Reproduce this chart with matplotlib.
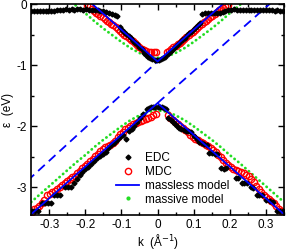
import matplotlib
matplotlib.use("Agg")
import matplotlib.pyplot as plt
from matplotlib.lines import Line2D
from matplotlib.ticker import MultipleLocator

plt.rcParams['font.family'] = ['Liberation Sans', 'DejaVu Sans']
plt.rcParams['font.size'] = 8.5
plt.rcParams['axes.unicode_minus'] = False

# EDC (black diamonds)
edc_k = [-0.350, -0.342, -0.334, -0.326, -0.318, -0.310, -0.302, -0.294, -0.286, -0.278,
         -0.270, -0.262, -0.254, -0.246, -0.238, -0.230, -0.222, -0.214, -0.206, -0.198,
         -0.190, -0.182, -0.174, -0.166, -0.158, -0.150, -0.142, -0.134, -0.126, -0.118, -0.112,
         -0.104, -0.098, -0.092, -0.086, -0.080, -0.074, -0.068, -0.062, -0.056, -0.050, -0.044,
         -0.038, -0.032, -0.026, -0.020, -0.014, -0.008, -0.002, 0.004, 0.010, 0.016,
         0.022, 0.028, 0.034, 0.040, 0.046, 0.052, 0.058, 0.064, 0.070, 0.076, 0.082, 0.088,
         0.094, 0.100, 0.106, 0.112, 0.118,
         0.124, 0.132, 0.140, 0.148, 0.156, 0.164, 0.172, 0.180, 0.188,
         0.196, 0.204, 0.212, 0.220, 0.228, 0.236, 0.244, 0.252, 0.260, 0.268,
         0.276, 0.284, 0.292, 0.300, 0.308, 0.316, 0.324, 0.332, 0.340, 0.348,
         # lower band
         -0.030, -0.024, -0.018, -0.012, -0.006, 0.000, 0.006, 0.012, 0.018, 0.024,
         -0.040, -0.048, -0.056, -0.064, -0.072, -0.080, -0.088, -0.096, -0.104, -0.112,
         -0.120, -0.128, -0.136, -0.144, -0.152, -0.160, -0.168, -0.176, -0.184, -0.192,
         -0.200, -0.208, -0.216, -0.224, -0.232, -0.240, -0.248, -0.256, -0.270, -0.278,
         -0.286, -0.296, -0.304, -0.312, -0.320, -0.332, -0.340, -0.348,
         0.030, 0.036, 0.042, 0.048, 0.054, 0.060, 0.066, 0.072, 0.078, 0.085, 0.092,
         0.100, 0.108, 0.116, 0.122, 0.130, 0.137, 0.142, 0.150, 0.158, 0.164,
         0.176, 0.183, 0.190, 0.216, 0.222, 0.233, 0.240, 0.247, 0.258, 0.264,
         0.274, 0.282, 0.290, 0.300, 0.310, 0.320, 0.332, 0.340, 0.348]
edc_e = [-0.12, -0.12, -0.11, -0.12, -0.11, -0.11, -0.12, -0.11, -0.11, -0.10,
         -0.09, -0.09, -0.08, -0.09, -0.08, -0.09, -0.08, -0.08, -0.09, -0.08,
         -0.09, -0.09, -0.10, -0.10, -0.11, -0.12, -0.13, -0.14, -0.16, -0.18, -0.20,
         -0.38, -0.42, -0.46, -0.49, -0.52, -0.56, -0.60, -0.63, -0.66, -0.70, -0.74,
         -0.80, -0.84, -0.87, -0.89, -0.90, -0.91, -0.91, -0.91, -0.90, -0.89,
         -0.86, -0.82, -0.79, -0.75, -0.72, -0.68, -0.65, -0.61, -0.58, -0.55, -0.51, -0.48,
         -0.45, -0.41, -0.38, -0.35, -0.31,
         -0.16, -0.15, -0.15, -0.14, -0.15, -0.14, -0.14, -0.13, -0.12,
         -0.09, -0.09, -0.08, -0.09, -0.09, -0.09, -0.09, -0.10, -0.09, -0.09,
         -0.10, -0.10, -0.09, -0.10, -0.10, -0.10, -0.11, -0.10, -0.11, -0.11,
         -1.71, -1.70, -1.69, -1.69, -1.68, -1.68, -1.69, -1.69, -1.70, -1.71,
         -1.80, -1.86, -1.93, -2.00, -2.05, -2.08, -2.20, -2.14, -2.18, -2.22,
         -2.27, -2.31, -2.36, -2.42, -2.45, -2.48, -2.52, -2.57, -2.62, -2.67,
         -2.70, -2.75, -2.80, -2.86, -2.92, -3.00, -3.00, -3.00, -3.13, -3.13,
         -3.13, -3.25, -3.25, -3.25, -3.25, -3.38, -3.38, -3.39,
         -1.86, -1.90, -1.93, -1.97, -2.00, -2.03, -2.05, -2.06, -2.07, -2.08, -2.10,
         -2.16, -2.20, -2.26, -2.28, -2.29, -2.30, -2.43, -2.44, -2.45, -2.45,
         -2.69, -2.70, -2.69, -2.84, -2.84, -2.93, -2.93, -2.93, -3.00, -3.01,
         -3.13, -3.13, -3.13, -3.20, -3.22, -3.24, -3.38, -3.38, -3.38]

# MDC (red open circles)
mdc_k = [-0.194, -0.188, -0.182, -0.176, -0.170, -0.164, -0.158, -0.152, -0.146, -0.140,
         -0.134, -0.128, -0.122, -0.116, -0.110, -0.104, -0.098, -0.092, -0.086, -0.080,
         -0.074, -0.068, -0.062, -0.056, -0.050, -0.044, -0.038, -0.031, -0.024, -0.017,
         -0.010, -0.003,
         0.026, 0.032, 0.038, 0.044, 0.050, 0.056, 0.062, 0.068, 0.074, 0.080, 0.086, 0.092,
         0.098, 0.104, 0.110, 0.116, 0.122, 0.128, 0.134, 0.140, 0.146, 0.152, 0.158, 0.164,
         0.170, 0.176, 0.182, 0.188, 0.194,
         -0.348, -0.341, -0.334, -0.327, -0.320, -0.313, -0.306, -0.299, -0.292, -0.285,
         -0.278, -0.271, -0.264, -0.257, -0.250, -0.243, -0.236, -0.229, -0.222, -0.215,
         -0.208, -0.201, -0.194, -0.187, -0.180, -0.173, -0.166, -0.159, -0.152, -0.145,
         -0.138, -0.131, -0.124, -0.117, -0.110, -0.103, -0.096, -0.089, -0.082, -0.075,
         -0.068, -0.061, -0.054, -0.047, -0.040, -0.033, -0.026, -0.019, -0.012, -0.005,
         0.028, 0.035, 0.042, 0.049, 0.056, 0.063, 0.070, 0.077, 0.084, 0.091, 0.098, 0.105,
         0.112, 0.119, 0.126, 0.133, 0.140, 0.147, 0.154, 0.161, 0.168, 0.175, 0.182, 0.189,
         0.196, 0.203, 0.210, 0.217, 0.224, 0.231, 0.238, 0.245, 0.252, 0.259, 0.266, 0.273,
         0.280, 0.287, 0.294, 0.301, 0.308, 0.315, 0.322, 0.329, 0.336, 0.343]
mdc_e = [-0.02, -0.04, -0.08, -0.11, -0.14, -0.17, -0.20, -0.22, -0.25, -0.28,
         -0.30, -0.32, -0.35, -0.38, -0.41, -0.44, -0.47, -0.50, -0.53, -0.56,
         -0.59, -0.61, -0.64, -0.67, -0.71, -0.74, -0.76, -0.77, -0.78, -0.78,
         -0.79, -0.78,
         -0.78, -0.77, -0.74, -0.71, -0.69, -0.66, -0.63, -0.60, -0.57, -0.54, -0.51, -0.48,
         -0.45, -0.42, -0.39, -0.36, -0.33, -0.30, -0.27, -0.24, -0.21, -0.19, -0.16, -0.13,
         -0.10, -0.08, -0.06, -0.04, -0.02,
         -3.40, -3.36, -3.33, -3.30, -3.25, -3.20, -3.13, -3.10, -3.07, -3.05,
         -3.02, -2.99, -2.96, -2.93, -2.90, -2.86, -2.83, -2.81, -2.77, -2.73,
         -2.69, -2.65, -2.61, -2.57, -2.53, -2.49, -2.45, -2.40, -2.37, -2.34,
         -2.32, -2.30, -2.28, -2.24, -2.18, -2.13, -2.09, -2.05, -2.02, -1.99,
         -1.96, -1.94, -1.93, -1.91, -1.90, -1.88, -1.86, -1.84, -1.82, -1.80,
         -1.82, -1.86, -1.90, -1.93, -1.96, -1.99, -2.02, -2.06, -2.10, -2.14, -2.17, -2.20,
         -2.23, -2.26, -2.28, -2.30, -2.33, -2.36, -2.39, -2.42, -2.47, -2.51, -2.55, -2.60,
         -2.64, -2.67, -2.70, -2.72, -2.73, -2.74, -2.76, -2.79, -2.82, -2.86, -2.91, -2.97,
         -3.03, -3.08, -3.13, -3.16, -3.19, -3.22, -3.26, -3.30, -3.35, -3.39]

# massless model: two cones plus dashed continuations
cone_up_k = [-0.20, 0.0, 0.20]
cone_up_e = [0.10, -0.94, 0.10]
cone_lo_k = [-0.36, 0.0, 0.36]
cone_lo_e = [-3.49, -1.62, -3.49]
dash1_k = [-0.36, 0.0]
dash1_e = [-2.89, -0.94]
dash2_k = [0.0, 0.36]
dash2_e = [-1.62, 0.26]

# massive model (green dotted)
mass_k = [-0.35, -0.325, -0.30, -0.275, -0.25, -0.225, -0.20, -0.175, -0.15, -0.125, -0.10,
          -0.075, -0.05, -0.025, 0.0, 0.025, 0.05, 0.075, 0.10, 0.125, 0.15, 0.175, 0.20,
          0.225, 0.25, 0.275, 0.30, 0.325, 0.35]
mass_up = [0.62, 0.49, 0.36, 0.23, 0.10, -0.03, -0.15, -0.28, -0.40, -0.51, -0.62,
           -0.72, -0.80, -0.86, -0.88, -0.86, -0.80, -0.72, -0.62, -0.51, -0.40, -0.28, -0.15,
           -0.03, 0.10, 0.23, 0.36, 0.49, 0.62]
mass_lo = [-3.24, -3.11, -2.98, -2.85, -2.72, -2.59, -2.47, -2.34, -2.22, -2.11, -2.00,
           -1.90, -1.82, -1.76, -1.74, -1.76, -1.82, -1.90, -2.00, -2.11, -2.22, -2.34, -2.47,
           -2.59, -2.72, -2.85, -2.98, -3.11, -3.24]

fig = plt.figure(figsize=(2.88, 2.52), dpi=100)
ax = fig.add_axes([0.108, 0.147, 0.878, 0.837])

green = '#22dd22'
blue = '#0000ff'
ax.plot(mass_k, mass_up, color=green, ls=(0, (0.1, 1.6)), lw=2.0, dash_capstyle='round')
ax.plot(mass_k, mass_lo, color=green, ls=(0, (0.1, 1.6)), lw=2.0, dash_capstyle='round')
ax.plot(dash1_k, dash1_e, color=blue, ls=(0, (5, 3)), lw=1.3)
ax.plot(dash2_k, dash2_e, color=blue, ls=(0, (5, 3)), lw=1.3)
ax.plot(mdc_k, mdc_e, 'o', mfc='none', mec='red', ms=4.5, mew=1.0)
ax.plot(edc_k, edc_e, 'D', color='black', ms=2.5)
ax.plot(cone_up_k, cone_up_e, color=blue, lw=1.3)
ax.plot(cone_lo_k, cone_lo_e, color=blue, lw=1.3)

ax.set_xlim(-0.35, 0.35)
ax.set_ylim(-3.45, 0)
ax.xaxis.set_minor_locator(MultipleLocator(0.05))
ax.yaxis.set_minor_locator(MultipleLocator(0.5))
ax.tick_params(which='both', direction='in', top=True, right=True, width=1.0)
ax.tick_params(which='major', length=4.5, pad=3)
ax.tick_params(which='minor', length=2.5)
for s in ax.spines.values():
    s.set_linewidth(1.2)
ax.set_xticks([-0.3, -0.2, -0.1, 0, 0.1, 0.2, 0.3])
ax.set_xticklabels(['-0.3', '-0.2', '-0.1', '0', '0.1', '0.2', '0.3'])
ax.set_yticks([-3, -2, -1, 0])
ax.set_yticklabels(['-3', '-2', '-1', '0'])
ax.set_xlabel('k  (Å$^{-1}$)', labelpad=0.5)
ax.set_ylabel('ε  (eV)', labelpad=1.5)

handles = [Line2D([], [], ls='none', marker='D', color='black', ms=2.5),
           Line2D([], [], ls='none', marker='o', mfc='none', mec='red', ms=4.5, mew=1.0),
           Line2D([], [], color=blue, lw=1.3),
           Line2D([], [], ls='none', marker='o', color=green, ms=2)]
ax.legend(handles, ['EDC', 'MDC', 'massless model', 'massive model'],
          loc='lower left', bbox_to_anchor=(0.3, 0.0), frameon=False,
          handlelength=1.9, handletextpad=0.5, labelspacing=0.15, borderpad=0.3,
          fontsize=8.5)

fig.savefig('out.png', dpi=100)
